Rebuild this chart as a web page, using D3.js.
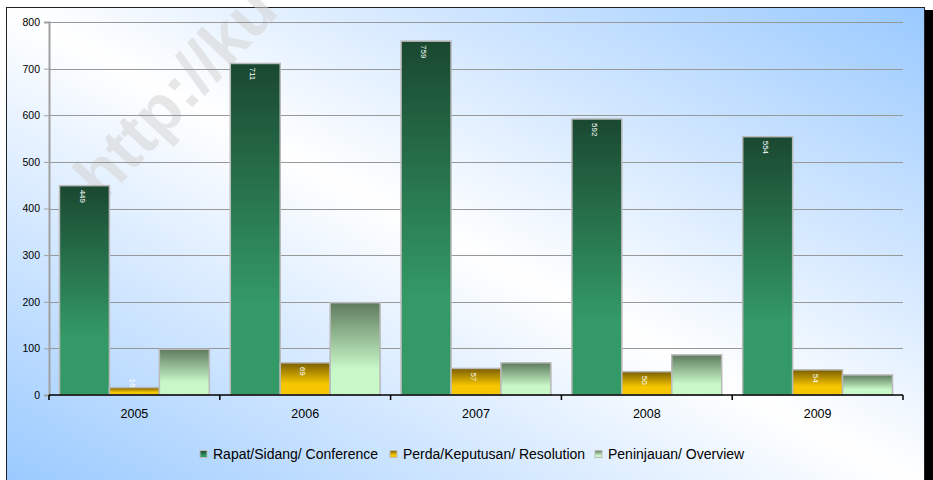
<!DOCTYPE html>
<html>
<head>
<meta charset="utf-8">
<script src="https://cdn.jsdelivr.net/npm/d3@7"></script>
<style>
	body { margin: 0; background: #fff; }
	svg { display: block; font-family: "Liberation Sans", Arial, sans-serif; }
</style>
</head>
<body>
<div id="chart"></div>
<script>
// data
var years = ["2005", "2006", "2007", "2008", "2009"];
var seriesNames = ["Rapat/Sidang/ Conference", "Perda/Keputusan/ Resolution", "Peninjauan/ Overview"];
var conference = [449, 711, 759, 592, 554];
var resolution = [16, 69, 57, 50, 54];
var overview = [98, 198, 69, 86, 43];
var yTicks = [0, 100, 200, 300, 400, 500, 600, 700, 800];
var watermark = "http://ku";

drawChart();

function drawChart() {
	var svg = d3.select("#chart")
		.append("svg")
		.attr("width", 933)
		.attr("height", 480);

	var margin = {top: 22, right: 30, bottom: 85, left: 49},
		width = 933 - margin.left - margin.right,
		height = 480 - margin.top - margin.bottom;

	var defs = svg.append("defs");

	// background gradient: blue corners bottom-left / top-right, white in the middle
	var bg = defs.append("linearGradient")
		.attr("id", "bg")
		.attr("x1", 0).attr("y1", 1).attr("x2", 1).attr("y2", 0);
	bg.append("stop").attr("offset", "0%").attr("stop-color", "#99c9ff");
	bg.append("stop").attr("offset", "50%").attr("stop-color", "#ffffff");
	bg.append("stop").attr("offset", "100%").attr("stop-color", "#99c9ff");

	// bar gradients (dark on top, light at bottom)
	var barColors = [
		["#1a4830", "#339966", "72%"],
		["#7a5e00", "#f6c600", "65%"],
		["#5e7a5e", "#c8f8c8", "72%"]
	];
	barColors.forEach(function(c, i) {
		var gr = defs.append("linearGradient")
			.attr("id", "bar" + i)
			.attr("x1", 0).attr("y1", 0).attr("x2", 0).attr("y2", 1);
		gr.append("stop").attr("offset", "0%").attr("stop-color", c[0]);
		gr.append("stop").attr("offset", c[2]).attr("stop-color", c[1]);
		gr.append("stop").attr("offset", "100%").attr("stop-color", c[1]);
	});

	// frame with shadow
	svg.append("rect")
		.attr("x", 9).attr("y", 10)
		.attr("width", 924).attr("height", 480)
		.style("fill", "#000");
	svg.append("rect")
		.attr("x", 6.5).attr("y", 7.5)
		.attr("width", 918).attr("height", 480)
		.style("fill", "url(#bg)")
		.style("stroke", "#222")
		.style("stroke-width", 1);

	// watermark
	svg.append("text")
		.attr("transform", "translate(103,203) rotate(-47)")
		.style("font-size", "66px")
		.style("font-weight", "bold")
		.style("fill", "#d4d4d4")
		.style("fill-opacity", 0.55)
		.text(watermark);

	var g = svg.append("g").attr("transform", "translate(" + margin.left + "," + margin.top + ")");

	var series = [conference, resolution, overview];

	var x0 = d3.scaleBand().domain(years).range([0, width]).padding(0);
	var x1 = d3.scaleBand().domain(d3.range(series.length))
		.range([0, x0.bandwidth()])
		.paddingInner(0).paddingOuter(0.21);
	var y = d3.scaleLinear().domain([0, 800]).range([height, 0]);

	// gridlines
	g.append("g")
		.selectAll("line")
		.data(yTicks.slice(1))
		.enter().append("line")
		.attr("x1", 0).attr("x2", width)
		.attr("y1", function(d) { return Math.round(y(d)) + 0.5; })
		.attr("y2", function(d) { return Math.round(y(d)) + 0.5; })
		.style("stroke", "#989898")
		.style("stroke-width", 1);

	// y axis
	var yAxis = g.append("g")
		.attr("class", "y axis")
		.call(d3.axisLeft(y).tickValues(yTicks).tickSize(5).tickPadding(4));
	yAxis.select(".domain").style("stroke", "#a0a0a0").style("stroke-width", 2);
	yAxis.selectAll(".tick line").style("stroke", "#a0a0a0");
	yAxis.selectAll("text")
		.style("font-size", "10.5px")
		.style("fill", "#000")
		.style("font-family", "Liberation Sans, Arial, sans-serif");

	// bars
	var groups = g.selectAll(".year")
		.data(years)
		.enter().append("g")
		.attr("class", "year")
		.attr("transform", function(d) { return "translate(" + x0(d) + ",0)"; });

	groups.selectAll("rect")
		.data(function(d, i) { return series.map(function(s, k) { return {k: k, v: s[i]}; }); })
		.enter().append("rect")
		.attr("x", function(d) { return x1(d.k); })
		.attr("width", x1.bandwidth())
		.attr("y", function(d) { return y(d.v); })
		.attr("height", function(d) { return height - y(d.v); })
		.style("fill", function(d) { return "url(#bar" + d.k + ")"; })
		.style("stroke", "#b9b9b9")
		.style("stroke-width", 1.5);

	// value labels (first two series only), rotated to read top-down
	groups.selectAll("text.val")
		.data(function(d, i) { return series.slice(0, 2).map(function(s, k) { return {k: k, v: s[i]}; }); })
		.enter().append("text")
		.attr("class", "val")
		.attr("transform", function(d) {
			var cx = x1(d.k) + x1.bandwidth() / 2 - 2;
			var top = y(d.v) + 4;
			if (height - y(d.v) < 20) top = y(d.v) - 9;
			return "translate(" + cx + "," + top + ") rotate(90)";
		})
		.attr("dy", "0.35em")
		.style("font-size", "8px")
		.style("fill", "#fff")
		.text(function(d) { return d.v; });

	// x axis
	var xAxis = g.append("g")
		.attr("class", "x axis")
		.attr("transform", "translate(0," + height + ")");
	xAxis.append("line")
		.attr("x1", 0).attr("x2", width)
		.style("stroke", "#000").style("stroke-width", 1.5);
	xAxis.selectAll("line.tick")
		.data(years.concat(["end"]))
		.enter().append("line")
		.attr("class", "tick")
		.attr("x1", function(d, i) { return i * x0.step(); })
		.attr("x2", function(d, i) { return i * x0.step(); })
		.attr("y1", 0).attr("y2", 5)
		.style("stroke", "#000").style("stroke-width", 1.5);
	xAxis.selectAll("text")
		.data(years)
		.enter().append("text")
		.attr("x", function(d) { return x0(d) + x0.bandwidth() / 2; })
		.attr("y", 22.5)
		.style("text-anchor", "middle")
		.style("font-size", "12.5px")
		.text(function(d) { return d; });

	// legend
	var legendX = [200, 390, 595];
	var legend = svg.selectAll(".legend")
		.data(seriesNames)
		.enter().append("g")
		.attr("class", "legend")
		.attr("transform", function(d, i) { return "translate(" + legendX[i] + ",454)"; });
	legend.append("rect")
		.attr("x", 0).attr("y", -3.5)
		.attr("width", 7).attr("height", 7)
		.style("fill", function(d, i) { return "url(#bar" + i + ")"; })
		.style("stroke", "#bbb").style("stroke-width", 1);
	legend.append("text")
		.attr("x", 13)
		.attr("dy", "0.35em")
		.style("font-size", "14px")
		.text(function(d) { return d; });
}
</script>
</body>
</html>
